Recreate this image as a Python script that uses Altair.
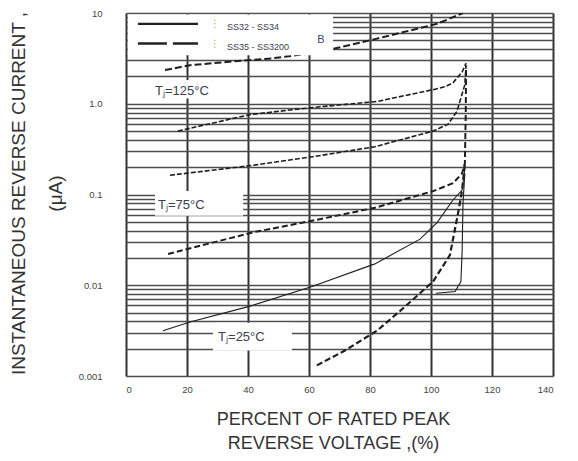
import altair as alt
import pandas as pd

# ---------------- data ----------------
pct_ticks = [0, 20, 40, 60, 80, 100, 120, 140]
cur_grid = [0.001, 0.002, 0.003, 0.004, 0.005, 0.006, 0.007, 0.008, 0.009,
            0.01, 0.02, 0.03, 0.04, 0.05, 0.06, 0.07, 0.08, 0.09,
            0.1, 0.2, 0.3, 0.4, 0.5, 0.6, 0.7, 0.8, 0.9,
            1, 2, 3, 4, 5, 6, 7, 8, 9, 10]

A_x = [12.8, 21.0, 39.7, 48.2, 63.0, 82.3, 102.0, 110.5]
A_y = [2.35, 2.66, 3.02, 3.17, 3.68, 5.22, 7.6, 10.0]
C_x = [17.0, 40.7, 61.3, 82.3, 100.7, 104.6, 107.2, 110.2, 111.5]
C_y = [0.50, 0.76, 0.91, 1.06, 1.43, 1.54, 1.70, 2.24, 2.80]
D_x = [14.4, 41.3, 61.3, 81.6, 100.7, 105.6, 108.5, 111.1, 111.5]
D_y = [0.163, 0.209, 0.261, 0.336, 0.50, 0.596, 0.825, 1.62, 2.66]
E_x = [13.8, 41.6, 61.3, 81.6, 100.7, 107.2, 110.2, 111.1, 111.4, 111.5]
E_y = [0.0221, 0.0383, 0.0516, 0.0714, 0.109, 0.133, 0.171, 0.219, 0.8, 2.6]
F_x = [12.1, 21.0, 40.7, 61.0, 81.6, 96.4, 102.0, 107.2, 110.2, 111.1]
F_y = [0.00315, 0.00394, 0.00589, 0.00969, 0.0172, 0.0322, 0.049, 0.087, 0.112, 0.194]
G_x = [62.6, 71.8, 82.3, 89.8, 100.7, 106.2, 108.9, 110.2, 111.1]
G_y = [0.00131, 0.00191, 0.00316, 0.00519, 0.0110, 0.0215, 0.063, 0.112, 0.219]
H_x = [101.6, 107.9, 109.8, 110.2, 110.5, 111.1]
H_y = [0.00815, 0.00855, 0.011, 0.0232, 0.081, 0.171]

temp_labels = ["T\u2c7c=125\u00b0C", "T\u2c7c=75\u00b0C", "T\u2c7c=25\u00b0C"]
temp_label_x = [9.5, 10.5, 30.2]
temp_label_y = [1.39, 0.0769, 0.00272]

# white boxes: legend, 125, 75, 25 label backgrounds
box_x = [0.6, 7.9, 9.5, 28.5]
box_x2 = [67.9, 33.5, 38.4, 54.4]
box_y = [3.42, 1.14, 0.0585, 0.00191]
box_y2 = [9.6, 1.83, 0.109, 0.00385]

legend_names = ["SS32 - SS34", "SS35 - SS3200"]
legend_line_x = [3.9, 23.6]
legend_y = [7.6, 4.61]
legend_text_x = 33.1
legend_mark_x = 29.2
b_label = "B"
b_x, b_y = 63.9, 5.09

FONT = "Liberation Sans"

# ---------------- scales / axes ----------------
xscale = alt.Scale(domain=[0, 140], nice=False, zero=False)
yscale = alt.Scale(type="log", domain=[0.001, 10], nice=False)

label_expr = ("datum.value == 10 ? '10' : datum.value == 1 ? '1.0' : "
              "datum.value == 0.1 ? '0.1' : datum.value == 0.01 ? '0.01' : "
              "datum.value == 0.001 ? '0.001' : ''")

xaxis = alt.Axis(values=pct_ticks, ticks=False, domain=False, grid=True,
                 gridColor="#333333", gridWidth=2, labelPadding=8,
                 labelFontSize=9.5, labelColor="#444444", labelFont=FONT,
                 title=["PERCENT OF RATED PEAK", "REVERSE VOLTAGE ,(%)"],
                 titleFont=FONT, titleFontSize=18, titleFontWeight="normal",
                 titleColor="#333333", titleX=207, titleY=34, titleAngle=0,
                 titleBaseline="top", titleAlign="center", titleLineHeight=24)
yaxis = alt.Axis(values=cur_grid, labelExpr=label_expr, labelOverlap=False,
                 ticks=False, domain=False, grid=True, gridColor="#4d4d4d",
                 gridWidth=1.4, labelPadding=24, labelFontSize=9.5,
                 labelColor="#444444", labelFont=FONT,
                 title=["INSTANTANEOUS REVERSE CURRENT ,", "(\u03bcA)"],
                 titleFont=FONT, titleFontSize=19, titleFontWeight="normal",
                 titleColor="#333333", titleAngle=270, titleX=-117, titleY=180,
                 titleBaseline="top", titleAlign="center", titleLineHeight=37)


def X(f="x"):
    return alt.X(f, type="quantitative", scale=xscale, axis=xaxis)


def Y(f="y"):
    return alt.Y(f, type="quantitative", scale=yscale, axis=yaxis)


def curve(xs, ys, dash, width):
    df = pd.DataFrame({"x": xs, "y": ys, "i": list(range(len(xs)))})
    kw = dict(color="#1e1e1e", strokeWidth=width, clip=True)
    if dash:
        kw["strokeDash"] = dash
    return alt.Chart(df).mark_line(**kw).encode(x=X(), y=Y(), order=alt.Order("i:Q"))


layers = []

boxes = pd.DataFrame({"x": box_x, "x2": box_x2, "y": box_y, "y2": box_y2,
                      "k": [0, 1, 2, 3]})
label_boxes = alt.Chart(boxes[boxes.k > 0]).mark_rect(color="white").encode(
    x=X(), x2=alt.X2("x2"), y=Y(), y2=alt.Y2("y2"))
layers.append(label_boxes)

layers.append(curve(A_x, A_y, [7, 3], 2.0))
layers.append(curve(C_x, C_y, [5, 2], 1.6))
layers.append(curve(D_x, D_y, [5, 2], 1.6))
layers.append(curve(E_x, E_y, [6, 3], 2.0))
layers.append(curve(F_x, F_y, None, 1.1))
layers.append(curve(G_x, G_y, [6, 3], 2.2))
layers.append(curve(H_x, H_y, None, 1.1))

legend_box = alt.Chart(boxes[boxes.k == 0]).mark_rect(color="white").encode(
    x=X(), x2=alt.X2("x2"), y=Y(), y2=alt.Y2("y2"))
layers.append(legend_box)

leg_solid = pd.DataFrame({"x": legend_line_x, "y": [legend_y[0]] * 2})
leg_dash = pd.DataFrame({"x": legend_line_x, "y": [legend_y[1]] * 2})
layers.append(alt.Chart(leg_solid).mark_line(color="#222222", strokeWidth=2.2).encode(x=X(), y=Y()))
layers.append(alt.Chart(leg_dash).mark_line(color="#222222", strokeWidth=2.5,
                                             strokeDash=[29, 6]).encode(x=X(), y=Y()))

leg_txt = pd.DataFrame({"x": [legend_text_x] * 2, "y": legend_y, "t": legend_names})
layers.append(alt.Chart(leg_txt).mark_text(align="left", baseline="middle", font=FONT,
                                           fontSize=9, color="#3a4050", dy=3).encode(
    x=X(), y=Y(), text="t:N"))
leg_mk = pd.DataFrame({"x": [legend_mark_x] * 2, "y": legend_y, "t": ["\u22ee", "\u22ee"]})
layers.append(alt.Chart(leg_mk).mark_text(align="center", baseline="middle", font="DejaVu Sans",
                                          fontSize=10, color="#d9a050").encode(
    x=X(), y=Y(), text="t:N"))

b_df = pd.DataFrame({"x": [b_x], "y": [b_y], "t": [b_label]})
layers.append(alt.Chart(b_df).mark_text(align="center", baseline="middle", font=FONT,
                                        fontSize=11, color="#3a4a6a").encode(
    x=X(), y=Y(), text="t:N"))

tl = pd.DataFrame({"x": temp_label_x, "y": temp_label_y, "t": temp_labels})
layers.append(alt.Chart(tl).mark_text(align="left", baseline="middle", font=FONT,
                                      fontSize=13, color="#3a4050").encode(
    x=X(), y=Y(), text="t:N"))

chart = alt.layer(*layers).properties(
    width=427, height=363,
    autosize=alt.AutoSizeParams(type="none"),
    padding={"left": 118, "top": 5, "right": 17, "bottom": 77},
).configure_view(stroke="#333333", strokeWidth=2).configure(background="white")

chart.save("out.html", embed_options={"renderer": "svg", "actions": False})
